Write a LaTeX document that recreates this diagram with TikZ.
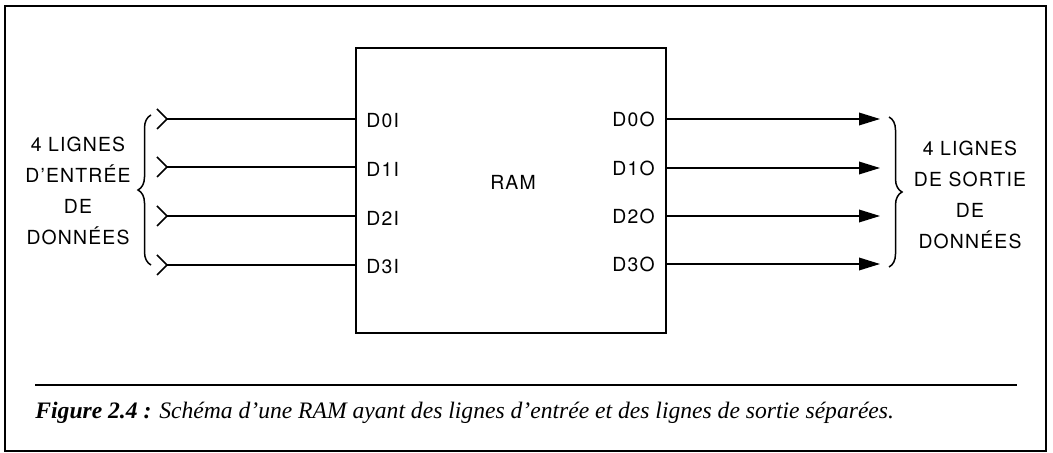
\documentclass[tikz,border=0pt]{standalone}
\usepackage{fontspec}
\setmainfont{TeX Gyre Heros}[LetterSpace=6]
\newfontfamily\capfont{Liberation Serif}
\usetikzlibrary{arrows.meta,decorations.pathreplacing}
\begin{document}
\begin{tikzpicture}[x=0.5pt,y=-0.5pt,
  lbl/.style={inner sep=0pt,font=\fontsize{9.7}{12}\selectfont},
  grp/.style={inner sep=0pt,align=center,font=\fontsize{9.7}{15.6}\selectfont},
  wire/.style={line width=0.75pt},
  outwire/.style={line width=0.75pt,-{Triangle[length=10.5pt,width=6.3pt]}},
  chev/.style={line width=0.75pt,line join=miter},
  brc/.style={line width=0.75pt,decorate,decoration={brace,amplitude=6.5pt}}]
\useasboundingbox (0,0) rectangle (1053,453);
\draw[line width=1pt] (5,6) rectangle (1046,451);
% RAM box
\node[draw,line width=1pt,minimum width=155pt,minimum height=142.5pt,inner sep=0pt] (ram) at (511,190.5) {};
\node[lbl] (ramlbl) at (513,182) {RAM};
% input labels and wires
\foreach \i/\y in {0/119,1/167,2/216,3/265}{
  \coordinate (pin\i) at (356,\y);
  \coordinate (tip\i) at (167,\y);
  \node[lbl,anchor=west] (din\i) at (366,\y+2) {D\i I};
  \draw[wire] (tip\i) -- (pin\i);
  \draw[chev] ([xshift=-5pt,yshift=5pt]tip\i) -- (tip\i) -- ([xshift=-5pt,yshift=-5pt]tip\i);
}
\foreach \i/\y in {0/119,1/168,2/216,3/264}{
  \coordinate (pout\i) at (666,\y);
  \coordinate (end\i) at (880,\y);
  \node[lbl,anchor=east] (dout\i) at (655,\y) {D\i O};
  \draw[outwire] (pout\i) -- (end\i);
}
% braces
\coordinate (lb1) at (151,265);
\coordinate (lb2) at (151,115);
\draw[brc] (lb1) -- (lb2);
\coordinate (rb1) at (889,117);
\coordinate (rb2) at (889,267);
\draw[brc] (rb1) -- (rb2);
\node[grp] (intext) at (78,191) {4 LIGNES\\D’ENTRÉE\\DE\\DONNÉES};
\node[grp] (outtext) at (970,195) {4 LIGNES\\DE SORTIE\\DE\\DONNÉES};
% caption
\coordinate (r1) at (35,385);
\coordinate (r2) at (1017,385);
\draw[line width=1pt] (r1) -- (r2);
\node[anchor=base west,inner sep=0pt,font=\capfont\fontsize{11.8}{14}\selectfont] (cap) at (35,419)
  {\textbf{\textit{Figure 2.4 :}} \textit{Schéma d’une RAM ayant des lignes d’entrée et des lignes de sortie séparées.}};
\end{tikzpicture}
\end{document}
